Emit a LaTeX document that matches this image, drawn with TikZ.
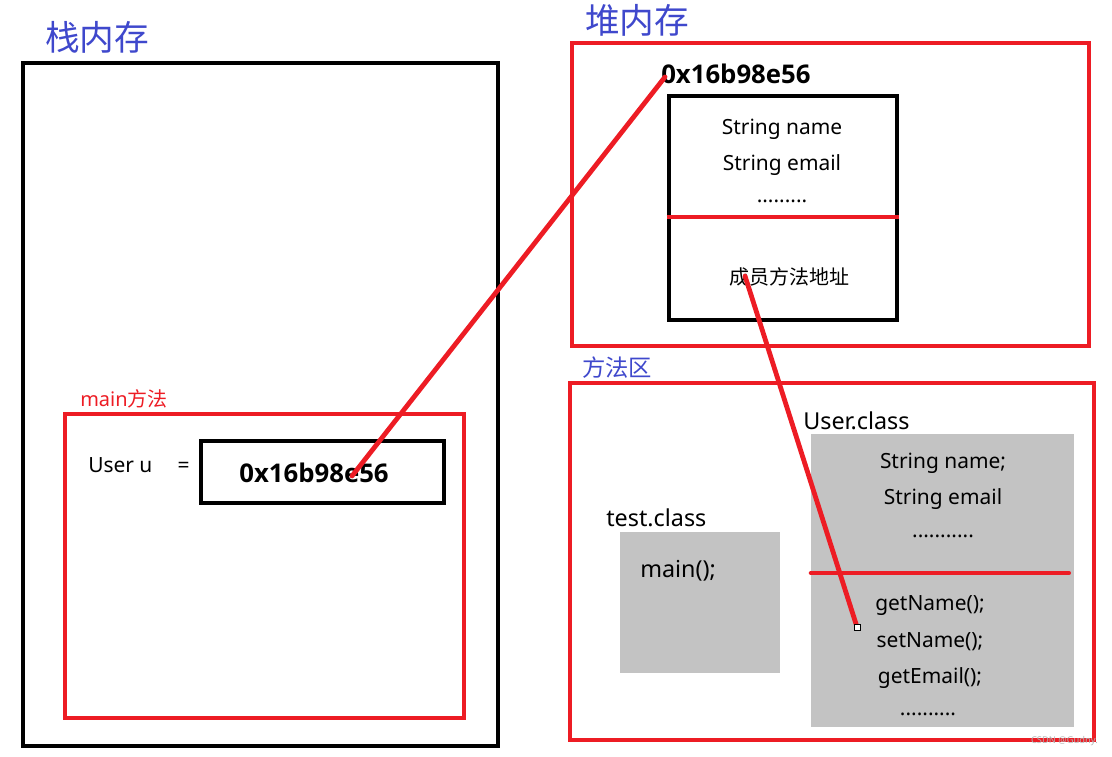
\documentclass[tikz,border=0pt]{standalone}
\usepackage{fontspec}
\setmainfont{Noto Sans}
\newfontfamily\cjk{Noto Sans CJK SC}
\newfontfamily\addrfont{Open Sans}
\usetikzlibrary{fit}
\definecolor{paintred}{HTML}{ED1C24}
\definecolor{paintblue}{HTML}{3F48CC}
\definecolor{paintgrey}{HTML}{C3C3C3}
\begin{document}
\begin{tikzpicture}[x=0.75pt,y=-0.75pt,
  blackbox/.style={draw=black, line width=3.6pt, inner sep=0pt},
  redbox/.style={draw=paintred, line width=3pt, inner sep=0pt},
  greybox/.style={fill=paintgrey, inner sep=0pt},
  areatitle/.style={text=paintblue, font=\cjk\fontsize{26}{30}\selectfont, inner sep=0pt},
  label/.style={font=\fontsize{15.7}{18}\selectfont, inner sep=0pt},
  classname/.style={font=\fontsize{17.5}{20}\selectfont, inner sep=0pt, anchor=west},
  addr/.style={font=\addrfont\bfseries\fontsize{19.3}{22}\selectfont, inner sep=0pt},
  divider/.style={draw=paintred, line width=3pt},
  pointer/.style={draw=paintred, line width=3.6pt, line cap=round}]
\useasboundingbox (0,0) rectangle (1112,756);

% ---------- stack ----------
\node[areatitle, anchor=west] (stacktitle) at (45,37) {栈内存};
\node[blackbox, fit={(23,63) (498,746)}] (stack) {};
\node[anchor=west, text=paintred, font=\fontsize{15}{18}\selectfont, inner sep=0pt] (mainlbl) at (80,399) {main\cjk 方法};
\node[redbox, fit={(65,414) (464,718)}] (mainframe) {};
\node[label, anchor=west] (uservar) at (88,465) {User u\hspace{1.2em}=};
\node[blackbox, line width=3pt, fit={(201,441) (444,503)}] (valbox) {};
\node[addr] (stackaddr) at (314,473) {0x16b98e56};

% ---------- heap ----------
\node[areatitle, anchor=west] (heaptitle) at (585,20) {堆内存};
\node[redbox, fit={(572,43) (1089,346)}] (heap) {};
\node[addr, anchor=west] (heapaddr) at (661,74) {0x16b98e56};
\node[blackbox, fit={(669,96) (897,320)}] (object) {};
\node[label] (fname) at (782,129) {String name};
\node[label] (femail) at (782,165) {String email};
\node[label] (fdots) at (782,201) {.........};
\draw[divider] (object.west |- 0,217) -- (object.east |- 0,217);
\node[font=\cjk\fontsize{15}{18}\selectfont, inner sep=0pt] (methaddr) at (789,277) {成员方法地址};

% ---------- method area ----------
\node[text=paintblue, font=\cjk\fontsize{17.5}{20}\selectfont, inner sep=0pt, anchor=west] (methtitle) at (582,368) {方法区};
\node[redbox, fit={(570,383) (1094,740)}] (method) {};

\node[classname] (testname) at (606,518) {test.class};
\node[greybox, fit={(620,532) (780,673)}] (testcls) {};
\node[classname, anchor=west] (mainfn) at (640,571) {main();};

\node[classname] (username) at (803,421) {User.class};
\node[greybox, fit={(811,434) (1074,727)}] (usercls) {};
\node[label] (uname) at (943,463) {String name;};
\node[label] (uemail) at (943,499) {String email};
\node[label] (udots) at (943,536) {...........};
\draw[divider, line cap=round] (usercls.west |- 0,573) -- (1069,573);
\node[label] (getname) at (930,606) {getName();};
\node[label] (setname) at (930,642) {setName();};
\node[label] (getemail) at (930,678) {getEmail();};
\node[label] (udots2) at (928,714) {..........};

% ---------- pointers ----------
\coordinate (addrhead) at (665,77);
\coordinate (addrtail) at (352,476);
\draw[pointer] (addrhead) -- (addrtail);

\coordinate (mptr) at (745,276);
\coordinate (mtarget) at (857,627);
\draw[pointer] (mptr) -- (mtarget);
\node[draw=black, fill=white, line width=0.5pt, minimum size=4.5pt, inner sep=0pt] (mend) at (mtarget) {};

% watermark
\node[text=black!30, font=\fontsize{7}{8}\selectfont, inner sep=0pt, anchor=east] (mark) at (1098,741) {CSDN @Gudny.};
\end{tikzpicture}
\end{document}
